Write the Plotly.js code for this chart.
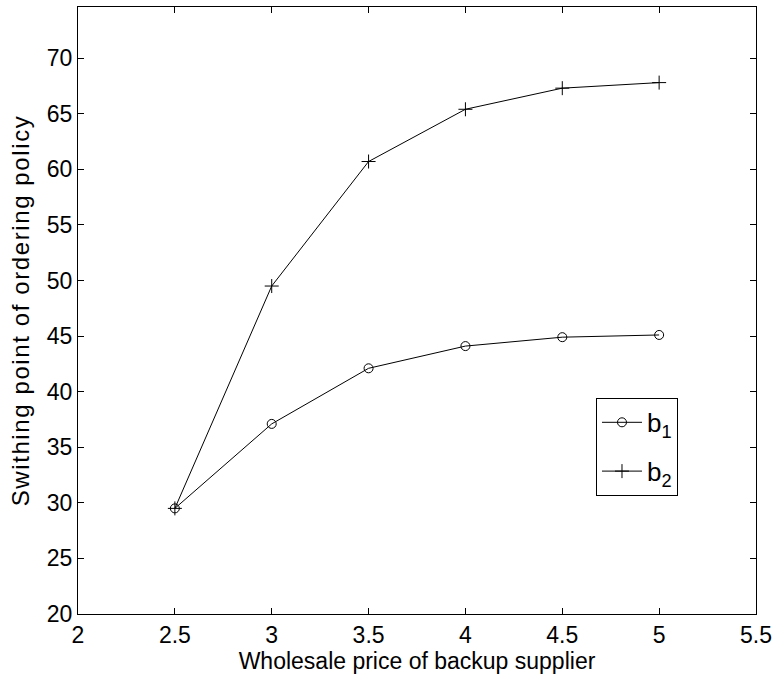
<!DOCTYPE html>
<html>
<head>
<meta charset="utf-8">
<script src="https://cdn.plot.ly/plotly-3.0.1.min.js"></script>
<style>html,body{margin:0;padding:0;background:#fff;}#chart{width:778px;height:681px;}
#chart .ytitle{letter-spacing:1.6px;}</style>
</head>
<body>
<div id="chart"></div>
<script>
const prices = [2.5, 3, 3.5, 4, 4.5, 5];
const b1 = [29.5, 37.1, 42.1, 44.1, 44.9, 45.1];
const b2 = [29.5, 49.5, 60.7, 65.4, 67.3, 67.8];
const xTicks = [2, 2.5, 3, 3.5, 4, 4.5, 5, 5.5];
const yTicks = [20, 25, 30, 35, 40, 45, 50, 55, 60, 65, 70];

const font = {family: 'Liberation Sans, Arial, Helvetica, sans-serif', color: '#000'};

const traces = [
  {x: prices, y: b1, name: 'b<sub>1</sub>', mode: 'lines+markers', legendgroup: 'g1',
   line: {color: '#000', width: 1},
   marker: {symbol: 'circle-open', size: 9, color: '#000', line: {width: 1, color: '#000'}}},
  {x: prices, y: b2, name: 'b<sub>2</sub>', mode: 'lines+markers', legendgroup: 'g2',
   line: {color: '#000', width: 1},
   marker: {symbol: 'cross-thin-open', size: 10, color: '#000', line: {width: 1, color: '#000'}}}
];

const axisCommon = {
  showgrid: false, zeroline: false, showline: true, mirror: 'ticks',
  linecolor: '#000', linewidth: 1, ticks: 'inside', ticklen: 6, tickwidth: 1, tickcolor: '#000',
  tickfont: Object.assign({size: 23}, font)
};

const layout = {
  width: 778, height: 681,
  margin: {l: 78, r: 22, t: 7, b: 67},
  paper_bgcolor: '#fff', plot_bgcolor: '#fff',
  showlegend: true,
  legend: {x: 0.764, y: 0.356, xanchor: 'left', yanchor: 'top',
    bordercolor: '#000', borderwidth: 1, bgcolor: '#fff',
    font: Object.assign({size: 26}, font), itemwidth: 40, tracegroupgap: 12},
  xaxis: Object.assign({}, axisCommon, {
    range: [2, 5.5], tickvals: xTicks, ticktext: xTicks.map(String),
    title: {text: 'Wholesale price of backup supplier', font: Object.assign({size: 23}, font), standoff: 0}
  }),
  yaxis: Object.assign({}, axisCommon, {
    range: [20, 74.6], tickvals: yTicks, ticktext: yTicks.map(String),
    title: {text: 'Swithing point of ordering policy', font: Object.assign({size: 24}, font), standoff: 10}
  })
};

Plotly.newPlot('chart', traces, layout, {displayModeBar: false, staticPlot: true});
</script>
</body>
</html>
